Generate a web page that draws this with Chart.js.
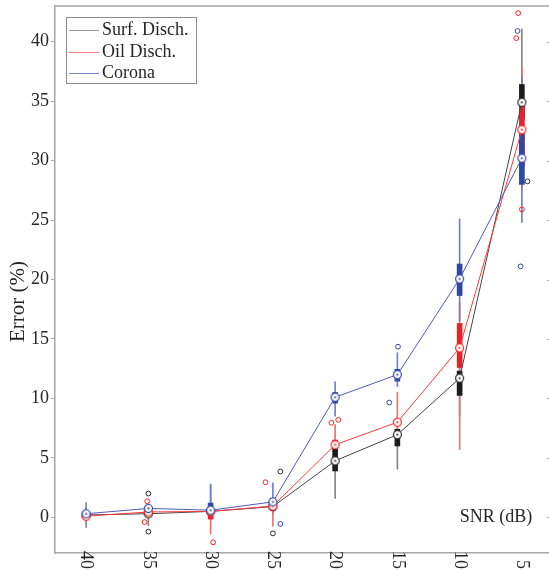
<!DOCTYPE html>
<html>
<head>
<meta charset="utf-8">
<script src="https://cdn.jsdelivr.net/npm/chart.js@4.4.1/dist/chart.umd.min.js"></script>
<style>
html, body { margin: 0; padding: 0; background: #fff; overflow: hidden; }
canvas { display: block; }
</style>
</head>
<body>
<canvas id="graf" width="559" height="570"></canvas>
<script>
// SNR kategorije (pozicije 1..8)
const snrLabels = ["40", "35", "30", "25", "20", "15", "10", "5"];
const seriesNames = ["Surf. Disch.", "Oil Disch.", "Corona"];
const yTicks = [0, 5, 10, 15, 20, 25, 30, 35, 40];

// Surf. Disch.
const surfMedian = [0.2, 0.3, 0.5, 0.9, 4.75, 6.95, 11.7, 34.9];
const surfBox = [[0.05, 0.35], [0.05, 0.6], [0.35, 0.65], [0.7, 1.1], [3.9, 5.9], [6.0, 7.4], [10.25, 12.3], [33.5, 36.4]];
const surfWhisker = [[-0.85, 1.25], [-0.7, 0.95], [0.1, 0.9], [0.3, 1.6], [1.6, 6.3], [4.05, 7.8], [8.5, 14.5], [31.0, 41.05]];
const surfOutliers = [[2, 2.0], [2, -1.2], [4.12, 3.85], [4, -1.35], [8.09, 28.25]];

// Oil Disch.
const oilMedian = [0.1, 0.45, 0.5, 0.95, 6.1, 8.0, 14.25, 32.6];
const oilBox = [[0.0, 0.2], [0.3, 0.7], [-0.15, 0.45], [0.55, 1.1], [5.9, 6.5], [7.8, 8.25], [12.6, 16.3], [29.5, 34.6]];
const oilWhisker = [[-0.3, 0.5], [0.0, 1.0], [-1.4, 2.7], [-0.75, 1.5], [5.5, 7.8], [7.5, 10.5], [5.7, 18.0], [27.5, 37.8]];
const oilOutliers = [[1.98, 1.35], [1.94, -0.4], [3.04, -2.1], [3.88, 2.95], [4.94, 7.95], [5.05, 8.2], [7.94, 42.4], [7.91, 40.3], [8, 25.9]];

// Corona
const coronaMedian = [0.3, 0.75, 0.6, 1.3, 10.1, 12.0, 20.05, 30.2];
const coronaBox = [[0.15, 0.45], [0.6, 0.9], [0.45, 1.2], [1.0, 1.6], [9.6, 10.5], [11.45, 12.45], [18.65, 21.3], [28.0, 32.2]];
const coronaWhisker = [[-0.2, 0.8], [0.3, 1.1], [-0.1, 2.8], [0.5, 2.9], [8.5, 11.4], [11.0, 13.85], [16.5, 25.1], [24.8, 37.2]];
const coronaOutliers = [[6.01, 14.35], [5.87, 9.65], [4.12, -0.55], [7.93, 40.9], [7.98, 21.1]];

const barve = [
	{ line: "#444444", ring: "#2a2a2a", box: "#1c1c1c", whisker: "#858585", legend: "#9a9a9a" },
	{ line: "#ff3a3a", ring: "#ff2020", box: "#e8202a", whisker: "#f07070", legend: "#ff8080" },
	{ line: "#4e5cb8", ring: "#3444a8", box: "#2d48a6", whisker: "#7080c8", legend: "#7b86c8" }
];

function obroc(color) {
	let c = document.createElement("canvas");
	c.width = 11; c.height = 11;
	let g = c.getContext("2d");
	g.beginPath();
	g.arc(5.5, 5.5, 4, 0, 2 * Math.PI);
	g.fillStyle = "#fff";
	g.fill();
	g.lineWidth = 1.2;
	g.strokeStyle = color;
	g.stroke();
	g.beginPath();
	g.arc(5.5, 5.5, 1.1, 0, 2 * Math.PI);
	g.fillStyle = color;
	g.fill();
	return c;
}

function naredi(name, med, box, whisk, outl, col, ord) {
	return [
		{ type: "line", label: name, data: med.map((v, i) => ({ x: i + 1, y: v })),
		  borderColor: col.line, borderWidth: 1, pointStyle: obroc(col.ring), pointRadius: 5, order: ord },
		{ type: "scatter", data: outl.map(p => ({ x: p[0], y: p[1] })), pointStyle: "circle",
		  pointRadius: 2.4, borderColor: col.ring, backgroundColor: "rgba(0,0,0,0)", borderWidth: 1, order: ord + 3 },
		{ type: "bar", data: box.map((b, i) => ({ x: i + 1, y: b })), backgroundColor: col.box,
		  barThickness: 5, grouped: false, borderWidth: 0, order: ord + 10 },
		{ type: "bar", data: whisk.map((b, i) => ({ x: i + 1, y: b })), backgroundColor: col.whisker,
		  barThickness: 1, grouped: false, borderWidth: 0, order: ord + 20 }
	];
}

const pisava = "Liberation Serif";

const dodatki = {
	id: "dodatki",
	afterDraw(chart) {
		const ctx = chart.ctx;
		const a = chart.chartArea;
		const x = chart.scales.x, y = chart.scales.y;
		ctx.save();
		ctx.strokeStyle = "#a6a6a6";
		ctx.lineWidth = 1.5;
		ctx.beginPath();
		ctx.moveTo(a.left, a.top);
		ctx.lineTo(a.right, a.top);
		ctx.stroke();
		ctx.lineWidth = 1;
		yTicks.forEach(v => {
			let py = Math.round(y.getPixelForValue(v)) + 0.5;
			ctx.beginPath();
			ctx.moveTo(a.right - 6, py);
			ctx.lineTo(a.right, py);
			ctx.stroke();
		});

		ctx.fillStyle = "#262626";
		ctx.font = "18px '" + pisava + "'";
		snrLabels.forEach((lab, i) => {
			ctx.save();
			ctx.translate(x.getPixelForValue(i + 1), a.bottom + 16);
			ctx.rotate(Math.PI / 2);
			ctx.textAlign = "right";
			ctx.textBaseline = "middle";
			ctx.fillText(lab, 0, 0);
			ctx.restore();
		});

		ctx.textAlign = "left";
		ctx.textBaseline = "middle";
		ctx.fillText("SNR (dB)", x.getPixelForValue(7), y.getPixelForValue(0));

		// naslov osi y
		ctx.save();
		ctx.font = "21px '" + pisava + "'";
		ctx.translate(18, (a.top + a.bottom) / 2 + 22);
		ctx.rotate(-Math.PI / 2);
		ctx.textAlign = "center";
		ctx.fillText("Error (%)", 0, 0);
		ctx.restore();

		// legenda
		let lx = a.left + 11, ly = a.top + 11, lw = 130, lh = 66;
		ctx.fillStyle = "#fff";
		ctx.fillRect(lx, ly, lw, lh);
		ctx.strokeStyle = "#8c8c8c";
		ctx.lineWidth = 1;
		ctx.strokeRect(lx + 0.5, ly + 0.5, lw, lh);
		seriesNames.forEach((n, i) => {
			let ey = Math.round(ly + 13 + i * 21.5) + 0.5;
			ctx.strokeStyle = barve[i].legend;
			ctx.beginPath();
			ctx.moveTo(lx + 3, ey);
			ctx.lineTo(lx + 33, ey);
			ctx.stroke();
			ctx.fillStyle = "#262626";
			ctx.fillText(n, lx + 36, ey);
		});
		ctx.restore();
	}
};

let graf = new Chart("graf", {
	type: "bar",
	data: {
		datasets: [].concat(
			naredi(seriesNames[0], surfMedian, surfBox, surfWhisker, surfOutliers, barve[0], 2),
			naredi(seriesNames[1], oilMedian, oilBox, oilWhisker, oilOutliers, barve[1], 1),
			naredi(seriesNames[2], coronaMedian, coronaBox, coronaWhisker, coronaOutliers, barve[2], 0)
		)
	},
	options: {
		responsive: false,
		animation: false,
		layout: { padding: { top: 6, left: 0, right: 0, bottom: 0 } },
		plugins: { legend: { display: false }, tooltip: { enabled: false } },
		scales: {
			x: {
				type: "linear", min: 0.5, max: 8.5, offset: false,
				ticks: { display: false },
				grid: { display: false },
				border: { color: "#a6a6a6", width: 1.5 },
				afterFit: s => { s.height = 17; s.paddingLeft = 0; s.paddingRight = 0; }
			},
			y: {
				min: -3, max: 43,
				afterBuildTicks: s => { s.ticks = yTicks.map(v => ({ value: v })); },
				ticks: { font: { family: pisava, size: 18 }, color: "#262626", padding: 2 },
				grid: { drawOnChartArea: false, tickLength: 4, color: "#a6a6a6" },
				border: { color: "#a6a6a6", width: 1.5 },
				afterFit: s => { s.width = 55; s.paddingTop = 0; s.paddingBottom = 0; }
			}
		}
	},
	plugins: [dodatki]
});
</script>
</body>
</html>
